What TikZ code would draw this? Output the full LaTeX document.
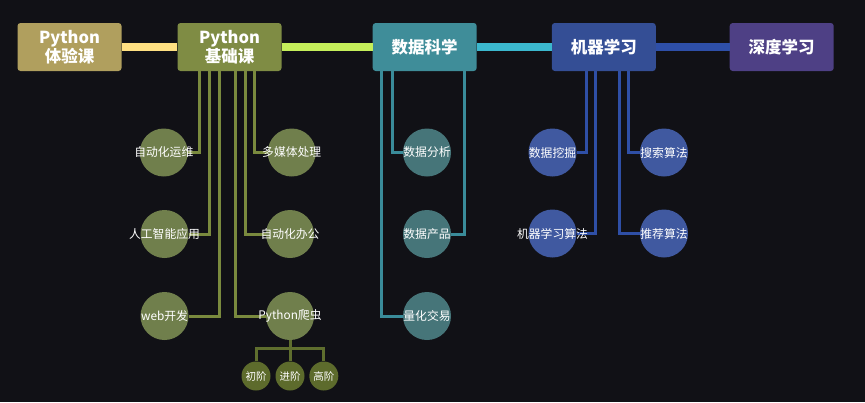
\documentclass[tikz,border=0pt]{standalone}
\usepackage{fontspec}
\setmainfont{Noto Sans CJK SC}
\usetikzlibrary{backgrounds}
\definecolor{bgc}{HTML}{111116}
\definecolor{tyc}{HTML}{B09F5E}
\definecolor{jcc}{HTML}{7F8C44}
\definecolor{dsc}{HTML}{3F8D99}
\definecolor{mlc}{HTML}{344E95}
\definecolor{dlc}{HTML}{4E4085}
\definecolor{lnkA}{HTML}{FFE082}
\definecolor{lnkB}{HTML}{C5EF5A}
\definecolor{lnkC}{HTML}{3BB8CE}
\definecolor{lnkD}{HTML}{2E4FA8}
\definecolor{olvl}{HTML}{7A8A3E}
\definecolor{olvc}{HTML}{707F4C}
\definecolor{lvlc}{HTML}{5D6B2C}
\definecolor{lvll}{HTML}{5F6E2E}
\definecolor{tell}{HTML}{3A8C9A}
\definecolor{telc}{HTML}{467579}
\definecolor{blul}{HTML}{2F4FA6}
\definecolor{bluc}{HTML}{4059A0}
\begin{document}
\begin{tikzpicture}[x=1pt,y=-1pt,
	course/.style={rounded corners=3pt,minimum width=104pt,minimum height=48pt,inner sep=0pt,align=center,text=white,font=\fontsize{16.5}{19}\selectfont\bfseries},
	topic/.style={circle,minimum size=48pt,inner sep=0pt},
	level/.style={circle,minimum size=29pt,inner sep=0pt,fill=lvlc},
	tag/.style={text=white,inner sep=0pt,font=\fontsize{11.8}{12}\selectfont},
	link/.style={line width=8pt},
	twig/.style={line width=3pt}]
\begin{scope}[on background layer]
\fill[bgc] (0,0) rectangle (865,402);
\end{scope}
\useasboundingbox (0,0) rectangle (865,402);
% main courses
\node[course,fill=tyc] (py) at (69.5,47) {Python\\体验课};
\node[course,fill=jcc] (pb) at (229.5,47) {Python\\基础课};
\node[course,fill=dsc] (ds) at (424.7,47) {数据科学};
\node[course,fill=mlc] (ml) at (603.8,47) {机器学习};
\node[course,fill=dlc] (dl) at (781.7,47) {深度学习};
\draw[link,lnkA] (py) -- (pb);
\draw[link,lnkB] (pb) -- (ds);
\draw[link,lnkC] (ds) -- (ml);
\draw[link,lnkD] (ml) -- (dl);
% topics
\foreach \n/\x/\y/\t in {a1/163.8/152.5/自动化运维,a2/164.5/234/人工智能应用,a3/164.5/316/web开发,
	b1/291.7/152.5/多媒体处理,b2/290/234/自动化办公,b3/290/316/Python爬虫}{
	\node[topic,fill=olvc] (\n) at (\x,\y) {};
	\node[tag] at (\n) {\t};
}
\foreach \n/\x/\y/\t in {d1/427/152.5/数据分析,d2/427/234/数据产品,d3/427/316/量化交易}{
	\node[topic,fill=telc] (\n) at (\x,\y) {};
	\node[tag] at (\n) {\t};
}
\foreach \n/\x/\y/\t in {m1/552.5/152.5/数据挖掘,m2/552.5/233.5/机器学习算法,m3/664/152.5/搜索算法,m4/664/233.5/推荐算法}{
	\node[topic,fill=bluc] (\n) at (\x,\y) {};
	\node[tag] at (\n) {\t};
}
\foreach \n/\x/\t in {s1/256/初阶,s2/290/进阶,s3/323.8/高阶}{
	\node[level] (\n) at (\x,376) {};
	\node[tag,font=\fontsize{10.5}{11}\selectfont] at (\n) {\t};
}
\coordinate (fork) at (290,348);
% branches
\begin{scope}[on background layer={twig}]
\draw[olvl] ([xshift=-30.5pt]pb.south) |- (a1.east);
\draw[olvl] ([xshift=-20.5pt]pb.south) |- (a2.east);
\draw[olvl] ([xshift=-10.5pt]pb.south) |- (a3.east);
\draw[olvl] ([xshift=5.5pt]pb.south) |- (b3.west);
\draw[olvl] ([xshift=15.5pt]pb.south) |- (b2.west);
\draw[olvl] ([xshift=24.5pt]pb.south) |- (b1.west);
\draw[lvll] (b3.south) -- (s2.north);
\draw[lvll] (s1.north) |- (fork) -| (s3.north);
\draw[tell] ([xshift=-43.7pt]ds.south) |- (d3.west);
\draw[tell] ([xshift=-32.7pt]ds.south) |- (d1.west);
\draw[tell] ([xshift=39.3pt]ds.south) |- (d2.east);
\draw[blul] ([xshift=-17pt]ml.south) |- (m1.east);
\draw[blul] ([xshift=-8pt]ml.south) |- (m2.east);
\draw[blul] ([xshift=16pt]ml.south) |- (m4.west);
\draw[blul] ([xshift=25pt]ml.south) |- (m3.west);
\end{scope}
\end{tikzpicture}
\end{document}
